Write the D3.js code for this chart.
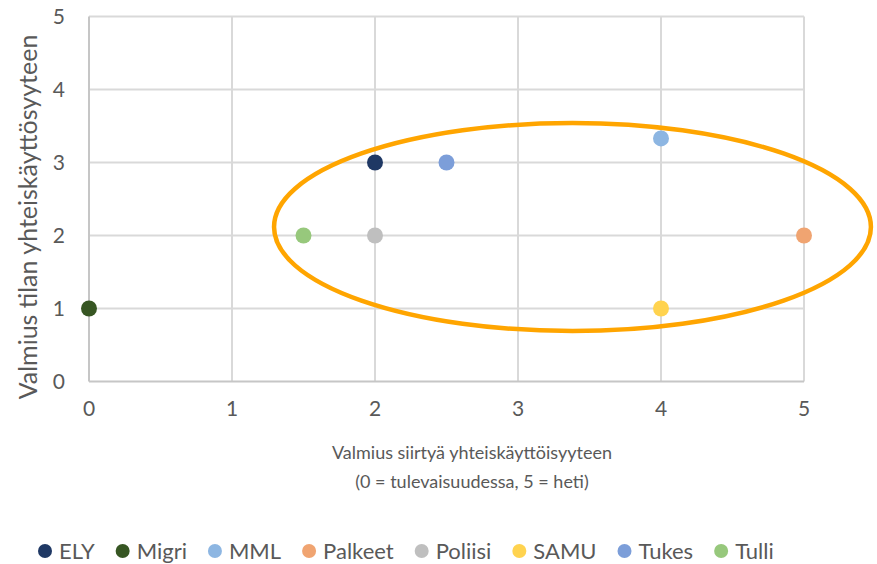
<!DOCTYPE html>
<html><head><meta charset="utf-8">
<script src="https://cdn.jsdelivr.net/npm/d3@7"></script>
<style>
html,body{margin:0;padding:0;background:#fff;}
text{font-family:Lato,"Liberation Sans",Arial,sans-serif;fill:#595959;}
</style></head>
<body><svg id="c" width="877" height="564"></svg>
<script>
// ---- data ----
const names   = ["ELY","Migri","MML","Palkeet","Poliisi","SAMU","Tukes","Tulli"];
const xValues = [2, 0, 4, 5, 2, 4, 2.5, 1.5];
const yValues = [3, 1, 3.33, 2, 2, 1, 3, 2];
const colors  = ["#1F3864","#375623","#8DB6E2","#F0A471","#BFBFBF","#FFD34F","#7C9ED9","#97C87C"];
const xTicks  = [0,1,2,3,4,5];
const yTicks  = [0,1,2,3,4,5];
const xTitle  = ["Valmius siirtyä yhteiskäyttöisyyteen","(0 = tulevaisuudessa, 5 = heti)"];
const yTitle  = "Valmius tilan yhteiskäyttösyyteen";
// highlight ellipse in data units: [cx, cy, rx, ry]
const highlight = [3.381, 2.116, 2.087, 1.425];

// ---- layout ----
const svg = d3.select("#c");
const x = d3.scaleLinear().domain([0,5]).range([89,804]);
const y = d3.scaleLinear().domain([0,5]).range([381.5,16.5]);

// gridlines
svg.append("g").selectAll("line.v").data(xTicks.filter(d=>d>0)).join("line")
  .attr("x1",d=>x(d)).attr("x2",d=>x(d)).attr("y1",y(0)).attr("y2",y(5))
  .attr("stroke","#D9D9D9").attr("stroke-width",2);
svg.append("g").selectAll("line.h").data(yTicks.filter(d=>d>0)).join("line")
  .attr("x1",x(0)).attr("x2",x(5)).attr("y1",d=>y(d)).attr("y2",d=>y(d))
  .attr("stroke","#D9D9D9").attr("stroke-width",2);
// axis lines
svg.append("line").attr("x1",x(0)).attr("x2",x(0)).attr("y1",y(0)).attr("y2",y(5))
  .attr("stroke","#C6C6C6").attr("stroke-width",2);
svg.append("line").attr("x1",x(0)).attr("x2",x(5)).attr("y1",y(0)).attr("y2",y(0))
  .attr("stroke","#C6C6C6").attr("stroke-width",2);

// tick labels
svg.append("g").selectAll("text").data(xTicks).join("text")
  .attr("x",d=>x(d)).attr("y",y(0)+34).attr("text-anchor","middle")
  .style("font-size","21px").text(d=>d);
svg.append("g").selectAll("text").data(yTicks).join("text")
  .attr("x",x(0)-24).attr("y",d=>y(d)+7.5).attr("text-anchor","end")
  .style("font-size","21px").text(d=>d);

// axis titles
svg.append("text").attr("x",472).attr("y",459).attr("text-anchor","middle")
  .style("font-size","18px").text(xTitle[0]);
svg.append("text").attr("x",472).attr("y",488).attr("text-anchor","middle")
  .style("font-size","18px").text(xTitle[1]);
svg.append("text").attr("transform","translate(37,217) rotate(-90)")
  .attr("text-anchor","middle").style("font-size","25px").text(yTitle);

// points
const pts = names.map((n,i)=>({n, x:xValues[i], y:yValues[i], c:colors[i]}));
svg.append("g").selectAll("circle").data(pts).join("circle")
  .attr("cx",d=>x(d.x)).attr("cy",d=>y(d.y)).attr("r",8).attr("fill",d=>d.c);

// highlight ellipse
svg.append("ellipse")
  .attr("cx",x(highlight[0])).attr("cy",y(highlight[1]))
  .attr("rx",x(highlight[2])-x(0)).attr("ry",y(0)-y(highlight[3]))
  .attr("fill","none").attr("stroke","#FFA500").attr("stroke-width",4.5);

// legend
const lg = svg.append("g");
let cx = 45;
pts.forEach(d=>{
  lg.append("circle").attr("cx",cx).attr("cy",551).attr("r",7).attr("fill",d.c);
  const t = lg.append("text").attr("x",cx+14).attr("y",559).style("font-size","22px").text(d.n);
  cx = cx + 14 + t.node().getComputedTextLength() + 28;
});
</script></body></html>
